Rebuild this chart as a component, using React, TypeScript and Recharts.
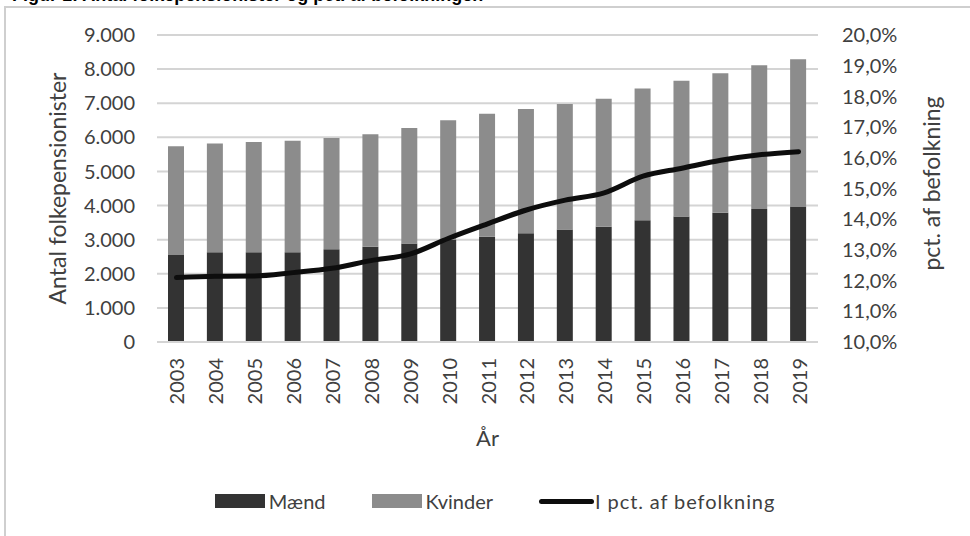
import React from 'react';
import {
  ComposedChart,
  Bar,
  Line,
  XAxis,
  YAxis,
  CartesianGrid,
  Legend,
  Label,
} from 'recharts';

const years = ['2003', '2004', '2005', '2006', '2007', '2008', '2009', '2010', '2011', '2012', '2013', '2014', '2015', '2016', '2017', '2018', '2019'];
const maend = [2550, 2630, 2630, 2630, 2720, 2790, 2890, 2990, 3085, 3190, 3300, 3380, 3570, 3680, 3790, 3900, 3970];
const kvinder = [3190, 3190, 3230, 3270, 3260, 3300, 3380, 3510, 3605, 3640, 3680, 3750, 3860, 3980, 4090, 4210, 4320];
const pctBefolkning = [12.1, 12.14, 12.15, 12.26, 12.4, 12.65, 12.86, 13.38, 13.85, 14.3, 14.62, 14.86, 15.4, 15.66, 15.92, 16.1, 16.2];

const leftTicks = [0, 1000, 2000, 3000, 4000, 5000, 6000, 7000, 8000, 9000];
const rightTicks = [10, 11, 12, 13, 14, 15, 16, 17, 18, 19, 20];

const seriesNames = { maend: 'Mænd', kvinder: 'Kvinder', pct: 'I pct. af befolkning' };

const data = years.map((year, i) => ({
  year,
  maend: maend[i],
  kvinder: kvinder[i],
  pct: pctBefolkning[i],
}));

const FONT = 'Lato, "DejaVu Sans", sans-serif';
const TEXT = '#404040';
const GRID = '#d4d4d4';

const fmtThousands = (v: number) =>
  v >= 1000 ? `${Math.floor(v / 1000)}.${String(v % 1000).padStart(3, '0')}` : String(v);
const fmtPct = (v: number) => `${v.toFixed(1).replace('.', ',')}%`;

const YearTick = (props: any) => {
  const { x, y, payload } = props;
  return (
    <text
      x={x}
      y={y}
      transform={`rotate(-90 ${x} ${y})`}
      textAnchor="end"
      dominantBaseline="central"
      fill={TEXT}
      fontSize={20}
      fontFamily={FONT}
    >
      {payload.value}
    </text>
  );
};

const legendItems = [
  { name: seriesNames.maend, color: '#333333', kind: 'bar' },
  { name: seriesNames.kvinder, color: '#8c8c8c', kind: 'bar' },
  { name: seriesNames.pct, color: '#0d0d0d', kind: 'line' },
];

const LegendContent = () => (
  <div style={{ display: 'flex', justifyContent: 'center', alignItems: 'center', gap: 46, fontFamily: FONT, fontSize: 20, color: TEXT }}>
    {legendItems.map((item) => (
      <div key={item.name} style={{ display: 'flex', alignItems: 'center', gap: item.kind === 'bar' ? 4 : 1 }}>
        {item.kind === 'bar' ? (
          <span style={{ display: 'inline-block', width: 50, height: 14, background: item.color }} />
        ) : (
          <span style={{ display: 'inline-block', width: 55, height: 5, borderRadius: 3, background: item.color }} />
        )}
        <span style={{ letterSpacing: item.kind === 'line' ? 0.9 : 0 }}>{item.name}</span>
      </div>
    ))}
  </div>
);

const AxisTitle = ({ x, y, text }: { x: number; y: number; text: string }) => (
  <text
    x={x}
    y={y}
    transform={`rotate(-90 ${x} ${y})`}
    textAnchor="middle"
    dominantBaseline="central"
    fill={TEXT}
    fontSize={23}
    fontFamily={FONT}
  >
    {text}
  </text>
);

export default function App() {
  return (
    <div style={{ position: 'relative', width: 970, height: 536, overflow: 'hidden', background: '#fff' }}>
      <style>{'body{margin:0}'}</style>
      <svg width={970} height={10} style={{ position: 'absolute', left: 0, top: 0 }}>
        <text x={12} y={0.5} fontSize={18} fontWeight="bold" fontFamily='"Liberation Sans", Arial, sans-serif' fill="#000">
          Figur 1: Antal folkepensionister og pct. af befolkningen
        </text>
      </svg>
      <div
        style={{
          position: 'absolute',
          left: 4,
          top: 6,
          width: 966,
          height: 530,
          boxSizing: 'border-box',
          borderTop: '2px solid #cfcfcf',
          borderLeft: '2px solid #cfcfcf',
        }}
      />
      <div style={{ position: 'absolute', left: 0, top: 0 }}>
        <ComposedChart
          width={970}
          height={536}
          data={data}
          margin={{ top: 35, right: 0, left: 0, bottom: 94 }}
          barSize={16}
        >
          <CartesianGrid yAxisId="left" vertical={false} stroke={GRID} strokeWidth={2} />
          <XAxis
            dataKey="year"
            interval={0}
            height={100}
            tickSize={0}
            tickMargin={16}
            tick={<YearTick />}
            axisLine={{ stroke: GRID, strokeWidth: 2 }}
            tickLine={false}
          >
            <Label
              content={({ viewBox }: any) => (
                <text
                  x={viewBox.x + viewBox.width / 2}
                  y={viewBox.y + 95}
                  textAnchor="middle"
                  dominantBaseline="central"
                  fill={TEXT}
                  fontSize={22}
                  fontFamily={FONT}
                >
                  År
                </text>
              )}
            />
          </XAxis>
          <YAxis
            yAxisId="left"
            orientation="left"
            width={157}
            domain={[0, 9000]}
            ticks={leftTicks}
            tickFormatter={fmtThousands}
            tickSize={0}
            tickMargin={22}
            axisLine={false}
            tickLine={false}
            tick={{ fill: TEXT, fontSize: 20, fontFamily: FONT }}
          >
            <Label
              content={({ viewBox }: any) => (
                <AxisTitle x={viewBox.x + 57} y={viewBox.y + viewBox.height / 2} text="Antal folkepensionister" />
              )}
            />
          </YAxis>
          <YAxis
            yAxisId="right"
            orientation="right"
            width={152}
            domain={[10, 20]}
            ticks={rightTicks}
            tickFormatter={fmtPct}
            tickSize={0}
            tickMargin={24}
            axisLine={false}
            tickLine={false}
            tick={{ fill: TEXT, fontSize: 20, fontFamily: FONT }}
          >
            <Label
              content={({ viewBox }: any) => (
                <AxisTitle x={viewBox.x + 113} y={viewBox.y + viewBox.height / 2 - 5} text="pct. af befolkning" />
              )}
            />
          </YAxis>
          <Legend
            layout="horizontal"
            verticalAlign="middle"
            align="center"
            content={<LegendContent />}
            wrapperStyle={{ top: 489, left: 0, width: 990, height: 26 }}
          />
          <Bar yAxisId="left" dataKey="maend" name={seriesNames.maend} stackId="a" fill="#333333" isAnimationActive={false} />
          <Bar yAxisId="left" dataKey="kvinder" name={seriesNames.kvinder} stackId="a" fill="#8c8c8c" isAnimationActive={false} />
          <Line
            yAxisId="right"
            dataKey="pct"
            name={seriesNames.pct}
            type="monotone"
            stroke="#0d0d0d"
            strokeWidth={5}
            strokeLinecap="round"
            dot={false}
            activeDot={false}
            isAnimationActive={false}
          />
        </ComposedChart>
      </div>
    </div>
  );
}
